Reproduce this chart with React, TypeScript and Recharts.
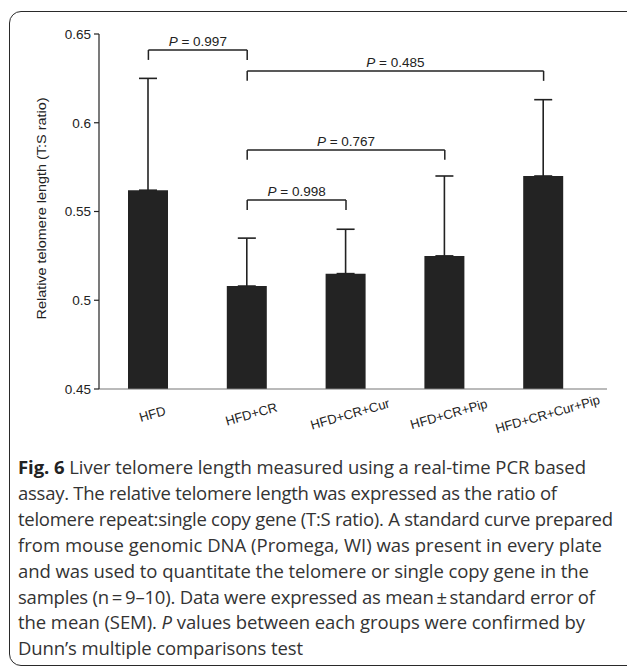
import React from "react";
import { Bar, BarChart, ErrorBar, ReferenceLine, XAxis, YAxis } from "recharts";

const groups = ["HFD", "HFD+CR", "HFD+CR+Cur", "HFD+CR+Pip", "HFD+CR+Cur+Pip"];
const means = [0.562, 0.508, 0.515, 0.525, 0.57];
const sems = [0.063, 0.027, 0.025, 0.045, 0.043];

const yTicks = [0.45, 0.5, 0.55, 0.6, 0.65];

// pairwise comparisons drawn as brackets above the bars
const bracketFrom = ["HFD", "HFD+CR", "HFD+CR", "HFD+CR"];
const bracketTo = ["HFD+CR", "HFD+CR+Cur+Pip", "HFD+CR+Pip", "HFD+CR+Cur"];
const bracketLevel = [0.641, 0.6292, 0.5847, 0.5565];
const bracketP = ["0.997", "0.485", "0.767", "0.998"];

const captionLines = [
  "Liver telomere length measured using a real-time PCR based",
  "assay. The relative telomere length was expressed as the ratio of",
  "telomere repeat:single copy gene (T:S ratio). A standard curve prepared",
  "from mouse genomic DNA (Promega, WI) was present in every plate",
  "and was used to quantitate the telomere or single copy gene in the",
  "samples (n\u2009=\u20099\u201310). Data were expressed as mean\u2009\u00b1\u2009standard error of",
  "values between each groups were confirmed by",
  "Dunn\u2019s multiple comparisons test",
];
// right end of every caption line in the figure
const captionEnds = [586, 557, 613, 602, 589, 595, 585, 303];

const data = groups.map((g, i) => ({ group: g, mean: means[i], err: [0, sems[i]] }));

const INK = "#222";
const AXIS_FONT = "'Liberation Sans', Arial, sans-serif";
const CAPTION_FONT = "'Open Sans', 'Noto Sans', sans-serif";
const DROP = 0.0056;

const XTick = ({ x, y, payload }: any) => (
  <g transform={`translate(${x + 4},${y + 25}) rotate(-16)`}>
    <text textAnchor="middle" dy="0.35em" fontFamily={AXIS_FONT} fontSize={13} fill={INK}>
      {payload.value}
    </text>
  </g>
);

const PLabel = ({ viewBox, p }: any) => {
  if (!viewBox) return null;
  const cx = viewBox.x + viewBox.width / 2;
  return (
    <text x={cx} y={viewBox.y - 4} textAnchor="middle" fontFamily={AXIS_FONT} fontSize={13.5} fill={INK}>
      <tspan fontStyle="italic">P</tspan>
      {" = " + p}
    </text>
  );
};

const YTitle = ({ viewBox }: any) => {
  if (!viewBox) return null;
  const cx = viewBox.x + 6;
  const cy = viewBox.y + viewBox.height / 2 - 3;
  return (
    <text
      x={cx}
      y={cy}
      transform={`rotate(-90, ${cx}, ${cy})`}
      textAnchor="middle"
      dy="0.35em"
      fontFamily={AXIS_FONT}
      fontSize={13}
      textLength={222}
      lengthAdjust="spacingAndGlyphs"
      fill={INK}
    >
      Relative telomere length (T:S ratio)
    </text>
  );
};

function Caption() {
  const left = 18;
  const top = 474;
  const step = 25.9;
  return (
    <svg width={627} height={670} style={{ position: "absolute", left: 0, top: 0 }}>
      {captionLines.map((line, i) => (
        <text
          key={i}
          x={left}
          y={top + i * step}
          fontFamily={CAPTION_FONT}
          fontSize={18.5}
          fill="#333"
          textLength={captionEnds[i] - left}
          lengthAdjust="spacing"
        >
          {i === 0 && (
            <tspan fontWeight={700} fill="#222">
              {"Fig. 6 "}
            </tspan>
          )}
          {i === 6 && (
            <>
              {"the mean (SEM). "}
              <tspan fontStyle="italic">P</tspan>{" "}
            </>
          )}
          {line}
        </text>
      ))}
    </svg>
  );
}

export default function App() {
  return (
    <div style={{ position: "absolute", left: 0, top: 0, width: 627, height: 670, overflow: "hidden", background: "#fff" }}>
      <div
        style={{
          position: "absolute",
          left: 9,
          top: 11,
          width: 640,
          height: 655,
          border: "1.6px solid #2a2a2a",
          borderRadius: 12,
          boxSizing: "border-box",
        }}
      />
      <div style={{ position: "absolute", left: 0, top: 0 }}>
        <BarChart width={627} height={440} data={data} margin={{ top: 34, right: 20, bottom: 6, left: 35 }}>
          <XAxis
            dataKey="group"
            height={45}
            padding={{ left: 0, right: 14 }}
            tickLine={false}
            tickSize={0}
            tickMargin={0}
            axisLine={{ stroke: "#777", strokeWidth: 1.2 }}
            tick={<XTick />}
            interval={0}
          />
          <YAxis
            width={64}
            domain={[0.45, 0.65]}
            ticks={yTicks}
            interval={0}
            tickSize={5}
            tickMargin={3}
            axisLine={{ stroke: INK, strokeWidth: 1.2 }}
            tickLine={{ stroke: INK, strokeWidth: 1.2 }}
            tick={{ fontFamily: AXIS_FONT, fontSize: 13.5, fill: INK }}
            label={(props: any) => <YTitle viewBox={props.viewBox} />}
          />
          <Bar dataKey="mean" fill="#232323" barSize={40} isAnimationActive={false}>
            <ErrorBar dataKey="err" direction="y" width={9} stroke={INK} strokeWidth={1.6} isAnimationActive={false} />
          </Bar>
          {bracketFrom.map((from, i) => (
            <ReferenceLine
              key={"h" + i}
              segment={[
                { x: from, y: bracketLevel[i] },
                { x: bracketTo[i], y: bracketLevel[i] },
              ]}
              stroke={INK}
              strokeWidth={1.5}
              label={(props: any) => <PLabel viewBox={props.viewBox} p={bracketP[i]} />}
            />
          ))}
          {bracketFrom.map((from, i) => (
            <ReferenceLine
              key={"l" + i}
              segment={[
                { x: from, y: bracketLevel[i] },
                { x: from, y: bracketLevel[i] - DROP },
              ]}
              stroke={INK}
              strokeWidth={1.5}
            />
          ))}
          {bracketTo.map((to, i) => (
            <ReferenceLine
              key={"r" + i}
              segment={[
                { x: to, y: bracketLevel[i] },
                { x: to, y: bracketLevel[i] - DROP },
              ]}
              stroke={INK}
              strokeWidth={1.5}
            />
          ))}
        </BarChart>
      </div>
      <Caption />
    </div>
  );
}
